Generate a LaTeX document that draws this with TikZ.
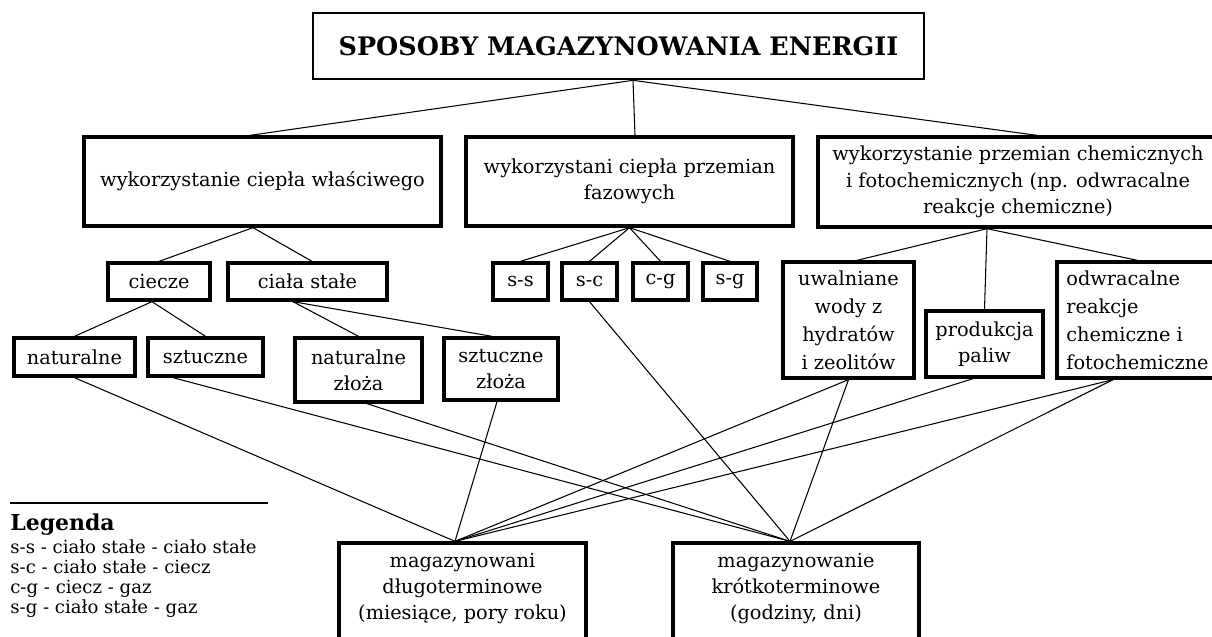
\documentclass[tikz,border=0pt]{standalone}
\usepackage{fontspec}
\setmainfont{DejaVu Serif}
\usetikzlibrary{calc}

\begin{document}
\begin{tikzpicture}[
            x=0.02cm, y=-0.02cm,
            % Styl ramek (grube obramowanie)
            box/.style={draw, line width=1.9pt, inner sep=0pt, align=center,
                        font=\fontsize{11}{15}\selectfont},
            % Styl tytulu
            titlebox/.style={draw, line width=1.5pt, inner sep=0pt,
                        font=\fontsize{14.5}{17}\selectfont\bfseries},
            % Styl polaczen
            link/.style={line width=0.6pt, black},
            % Styl tekstu legendy
            legtext/.style={anchor=base west, inner sep=0pt,
                        font=\fontsize{10.3}{12}\selectfont}
        ]

            \clip (0,0) rectangle (1212,636);

            % --- Tytul ---
            \node[titlebox, minimum width=12.22cm, minimum height=1.32cm] (title) at (618.5,46)
                {SPOSOBY MAGAZYNOWANIA ENERGII};

            % --- Poziom 1 ---
            \node[box, minimum width=7.14cm, minimum height=1.78cm] (spec) at (262.5,181.5)
                {wykorzystanie ciepła właściwego};
            \node[box, minimum width=6.54cm, minimum height=1.78cm] (phase) at (629.5,181.5)
                {wykorzystani ciepła przemian\\fazowych};
            \node[box, minimum width=8.0cm, minimum height=1.8cm] (chem) at (1018,182)
                {wykorzystanie przemian chemicznych\\i fotochemicznych (np. odwracalne\\reakcje chemiczne)};

            % --- Cieplo wlasciwe ---
            \node[box, minimum width=2.04cm, minimum height=0.74cm] (ciecze) at (159,281.5) {ciecze};
            \node[box, minimum width=3.18cm, minimum height=0.74cm] (stale) at (307.5,281.5) {ciała stałe};
            \node[box, minimum width=2.42cm, minimum height=0.76cm] (nat) at (74.5,357) {naturalne};
            \node[box, minimum width=2.30cm, minimum height=0.76cm] (szt) at (205.5,357) {sztuczne};
            \node[box, minimum width=2.54cm, minimum height=1.28cm] (natz) at (358.5,370) {naturalne\\złoża};
            \node[box, minimum width=2.28cm, minimum height=1.24cm] (sztz) at (501,369) {sztuczne\\złoża};

            % --- Przemiany fazowe ---
            \node[box, minimum width=1.10cm, minimum height=0.74cm] (ss) at (520.5,281.5) {s-s};
            \node[box, minimum width=1.10cm, minimum height=0.74cm] (sc) at (589.5,281.5) {s-c};
            \node[box, minimum width=1.10cm, minimum height=0.74cm] (cg) at (660.5,281.5) {c-g};
            \node[box, minimum width=1.08cm, minimum height=0.74cm] (sg) at (730,281.5) {s-g};

            % --- Przemiany chemiczne ---
            \node[box, minimum width=2.62cm, minimum height=2.32cm,
                  font=\fontsize{11}{16}\selectfont] (hydr) at (848.5,320)
                {uwalniane\\wody z\\hydratów\\i zeolitów};
            \node[box, minimum width=2.34cm, minimum height=1.32cm] (paliw) at (984.5,344)
                {produkcja\\paliw};
            \node[box, minimum width=3.22cm, minimum height=2.32cm, align=left,
                  font=\fontsize{11}{16}\selectfont] (odwr) at (1137.5,320)
                {odwracalne\\reakcje\\chemiczne i\\fotochemiczne};

            % --- Czas magazynowania ---
            \node[box, minimum width=4.94cm, minimum height=2.04cm, text depth=0.3cm] (dlugo) at (462.5,594)
                {magazynowani\\długoterminowe\\(miesiące, pory roku)};
            \node[box, minimum width=4.92cm, minimum height=2.04cm, text depth=0.3cm] (krotko) at (796,594)
                {magazynowanie\\krótkoterminowe\\(godziny, dni)};

            % Polaczenia od tytulu
            \draw[link] ($(title.south)+(14.5,0)$) -- ($(spec.north)+(-12.5,0)$);
            \draw[link] ($(title.south)+(14.5,0)$) -- ($(phase.north)+(5.5,0)$);
            \draw[link] ($(title.south)+(14.5,0)$) -- ($(chem.north)+(19,0)$);

            % Polaczenia w drzewie
            \draw[link] ($(spec.south)+(-9.5,0)$) -- (ciecze.north);
            \draw[link] ($(spec.south)+(-9.5,0)$) -- ($(stale.north)+(4.5,0)$);
            \draw[link] ($(ciecze.south)+(-7,0)$) -- (nat.north);
            \draw[link] ($(ciecze.south)+(-7,0)$) -- (szt.north);
            \draw[link] ($(stale.south)+(-14.5,0)$) -- (natz.north);
            \draw[link] ($(stale.south)+(-14.5,0)$) -- ($(sztz.north)+(-9,0)$);
            \foreach \n in {ss,sc,cg,sg}
                \draw[link] (phase.south) -- (\n.north);
            \draw[link] ($(chem.south)+(-31,0)$) -- ($(hydr.north)+(8.5,0)$);
            \draw[link] ($(chem.south)+(-31,0)$) -- (paliw.north);
            \draw[link] ($(chem.south)+(-31,0)$) -- (odwr.north);

            % Polaczenia do magazynowania dlugoterminowego
            \foreach \n/\dx in {nat/0, sztz/-4, hydr/0, paliw/-11.5, odwr/-24.5}
                \draw[link] ($(\n.south)+(\dx,0)$) -- ($(dlugo.north)+(-7.5,0)$);
            % Polaczenia do magazynowania krotkoterminowego
            \foreach \n/\dx in {szt/-32.5, natz/8.5, sc/0, hydr/0, odwr/-24.5}
                \draw[link] ($(\n.south)+(\dx,0)$) -- ($(krotko.north)+(-6,0)$);

            % --- Legenda ---
            \draw[line width=0.6pt] (10,503) -- (268,503);
            \node[legtext, font=\fontsize{12.5}{14}\selectfont\bfseries] (leg) at (10,530) {Legenda};
            \node[legtext] (leg1) at (10,553) {s-s - ciało stałe - ciało stałe};
            \node[legtext] (leg2) at (10,573) {s-c - ciało stałe - ciecz};
            \node[legtext] (leg3) at (10,593) {c-g - ciecz - gaz};
            \node[legtext] (leg4) at (10,613) {s-g - ciało stałe - gaz};

        \end{tikzpicture}
\end{document}
